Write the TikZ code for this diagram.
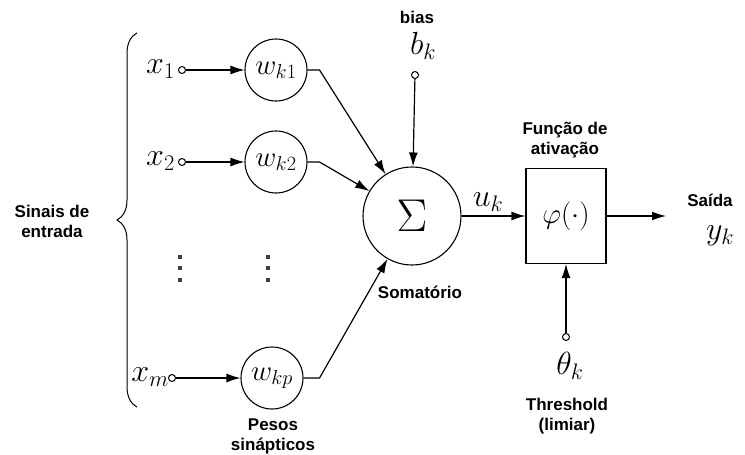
\RequirePackage{fix-cm}
\documentclass[tikz,border=0pt]{standalone}
\usepackage{fontspec}
\setsansfont{Liberation Sans}
\usepackage{amsmath}
\usetikzlibrary{arrows.meta,decorations.pathreplacing}

\begin{document}
\begin{tikzpicture}[x=1pt,y=-1pt,
  peso/.style={draw,circle,line width=1.1pt,minimum size=62pt,inner sep=0pt,font=\fontsize{29}{31}\selectfont},
  entrada/.style={draw,circle,line width=1pt,minimum size=7pt,inner sep=0pt},
  rotulo/.style={font=\fontsize{17}{20}\selectfont\sffamily\bfseries,align=center},
  mat/.style={font=\fontsize{32}{34}\selectfont},
  seta/.style={-{Latex[length=14pt,width=9pt]},line width=1.2pt}]
\useasboundingbox (0,0) rectangle (745,455);

\node[peso] (w1) at (276,70) {$w_{k1}$};
\node[peso] (w2) at (276,162) {$w_{k2}$};
\node[peso] (wp) at (272,378) {$w_{kp}$};
\node[entrada] (e1) at (182,70) {};
\node[entrada] (e2) at (182,162) {};
\node[entrada] (em) at (172,378) {};
\node[mat,anchor=east,inner sep=1pt] (x1) at (176,69) {$x_1$};
\node[mat,anchor=east,inner sep=1pt] (x2) at (176,161) {$x_2$};
\node[mat,anchor=east,inner sep=0pt] (xm) at (169,377) {$x_m$};

\node[draw,circle,line width=1.1pt,minimum size=98pt,inner sep=0pt,font=\fontsize{46}{48}\selectfont] (soma) at (412,216) {$\Sigma$};
\node[draw,line width=1.1pt,minimum width=80pt,minimum height=95pt,font=\fontsize{29}{31}\selectfont] (ativ) at (566,216) {$\varphi(\cdot)$};

\node[entrada] (b) at (415,75) {};
\node[mat] (bk) at (423,46) {$b_k$};
\node[rotulo] (bias) at (417,17) {bias};
\node[mat] (uk) at (488,202) {$u_k$};
\coordinate (saida) at (666,216);
\node[rotulo] (lsaida) at (710,200) {Saída};
\node[mat] (yk) at (720,236) {$y_k$};
\node[rotulo] (lfuncao) at (565,140) {Função de\\ativação};
\node[entrada] (t) at (566,337) {};
\node[mat] (tk) at (570,366) {$\theta_k$};
\node[rotulo] (lthr) at (567,416) {Threshold\\(limiar)};
\node[rotulo] (lsoma) at (420,292) {Somatório};
\node[rotulo] (lpesos) at (273,436) {Pesos\\sinápticos};
\node[rotulo] (lsinais) at (52,221) {Sinais de\\entrada};

\foreach \px in {180,268}
  \foreach \py in {257,268,280}
    \fill[black!75] (\px-1.8,\py-1.8) rectangle (\px+1.8,\py+1.8);

\draw[decorate,decoration={brace,amplitude=20pt},line width=1pt] (137,407) -- (137,33);

\draw[seta] (e1) -- (w1);
\draw[seta] (e2) -- (w2);
\draw[seta] (em) -- (wp);
\draw[seta] (w1.east) -- ++(12,0) -- (soma);
\draw[seta] (w2.east) -- ++(12,0) -- (soma);
\draw[seta] (wp.east) -- ++(16,0) -- (soma);
\draw[seta] (b) -- (soma);
\draw[seta] (soma) -- (ativ);
\draw[seta] (ativ) -- (saida);
\draw[seta] (t) -- (ativ);
\end{tikzpicture}
\end{document}
